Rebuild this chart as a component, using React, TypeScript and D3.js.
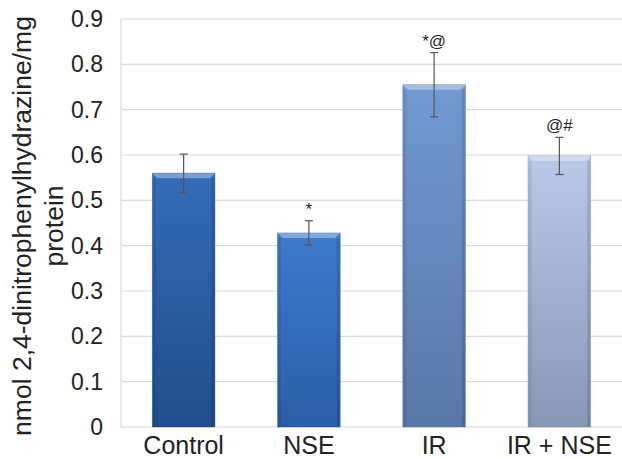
import React, { useEffect, useRef } from 'react';
import * as d3 from 'd3';

const groups = ['Control', 'NSE', 'IR', 'IR + NSE'];
const means = [0.56, 0.428, 0.755, 0.598];
const errors = [0.042, 0.027, 0.071, 0.041];
const marks = ['', '*', '*@', '@#'];
const yTicks = [0, 0.1, 0.2, 0.3, 0.4, 0.5, 0.6, 0.7, 0.8, 0.9];

const topColors = ['#336cb8', '#3d7bcb', '#7299d3', '#b9c9e9'];
const bottomColors = ['#214d8c', '#2a5ea6', '#5876a8', '#8897b5'];

const App = () => {
  const svg = useRef(null);
  const width = 622;
  const height = 459;
  const margin = { top: 19, right: 0, bottom: 32, left: 121 };

  const renderChart = (svg: any) => {
    svg.selectAll('*').remove();
    const font = 'Liberation Sans, Arial, sans-serif';

    const xscale = d3
      .scaleBand()
      .domain(groups)
      .range([margin.left, width - margin.right])
      .paddingInner(0.5)
      .paddingOuter(0.25);

    const yscale = d3
      .scaleLinear()
      .domain([0, 0.9])
      .range([height - margin.bottom, margin.top]);

    const defs = svg.append('defs');
    groups.forEach((g, i) => {
      const grad = defs
        .append('linearGradient')
        .attr('id', 'grad' + i)
        .attr('x1', 0).attr('y1', 0).attr('x2', 0).attr('y2', 1);
      grad.append('stop').attr('offset', '0%').attr('stop-color', topColors[i]);
      grad.append('stop').attr('offset', '100%').attr('stop-color', bottomColors[i]);
    });

    // gridlines
    svg
      .append('g')
      .selectAll('line')
      .data(yTicks.slice(1))
      .enter()
      .append('line')
      .attr('x1', margin.left)
      .attr('x2', width - margin.right)
      .attr('y1', (d: number) => yscale(d))
      .attr('y2', (d: number) => yscale(d))
      .attr('stroke', '#d9d9d9')
      .attr('stroke-width', 1.2);

    // axes lines
    svg
      .append('line')
      .attr('x1', margin.left).attr('x2', margin.left)
      .attr('y1', yscale(0.9)).attr('y2', yscale(0))
      .attr('stroke', '#d9d9d9').attr('stroke-width', 1.2);
    svg
      .append('line')
      .attr('x1', margin.left).attr('x2', width - margin.right)
      .attr('y1', yscale(0)).attr('y2', yscale(0))
      .attr('stroke', '#d9d9d9').attr('stroke-width', 1.2);

    // y tick labels
    const yAxis = d3
      .axisLeft(yscale)
      .tickValues(yTicks)
      .tickSize(0)
      .tickPadding(18)
      .tickFormat((d: any) => (d === 0 ? '0' : d3.format('.1f')(d)));
    const ya = svg
      .append('g')
      .attr('transform', `translate(${margin.left}, 0)`)
      .call(yAxis);
    ya.select('.domain').remove();
    ya.attr('font-size', null).attr('font-family', null);
    ya.selectAll('text')
      .style('font-family', font)
      .style('font-size', '23px')
      .attr('fill', '#222');

    // x labels
    const xAxis = d3.axisBottom(xscale).tickSize(0).tickPadding(9);
    const xa = svg
      .append('g')
      .attr('transform', `translate(0, ${height - margin.bottom})`)
      .call(xAxis);
    xa.select('.domain').remove();
    xa.attr('font-size', null).attr('font-family', null);
    xa.selectAll('text')
      .style('font-family', font)
      .style('font-size', '25px')
      .attr('fill', '#222');

    // bars
    const bars = svg
      .append('g')
      .selectAll('g.bar')
      .data(groups)
      .enter()
      .append('g')
      .attr('class', 'bar');

    const bw = xscale.bandwidth();
    bars
      .append('rect')
      .attr('x', (d: string) => xscale(d))
      .attr('width', bw)
      .attr('y', (_d: string, i: number) => yscale(means[i]))
      .attr('height', (_d: string, i: number) => yscale(0) - yscale(means[i]))
      .attr('fill', (_d: string, i: number) => `url(#grad${i})`)
      .attr('stroke', (_d: string, i: number) => d3.color(bottomColors[i])!.darker(0.3).toString())
      .attr('stroke-opacity', 0.5)
      .attr('stroke-width', 0.8);

    // top bevel
    const bev = 5;
    bars
      .append('path')
      .attr('d', (d: string, i: number) => {
        const x0 = xscale(d) as number;
        const y0 = yscale(means[i]);
        return `M${x0},${y0} L${x0 + bw},${y0} L${x0 + bw - bev},${y0 + bev} L${x0 + bev},${y0 + bev} Z`;
      })
      .attr('fill', '#fff')
      .attr('fill-opacity', 0.35);

    // side shading
    bars
      .append('rect')
      .attr('x', (d: string) => (xscale(d) as number) + 0.5)
      .attr('width', 3)
      .attr('y', (_d: string, i: number) => yscale(means[i]) + bev)
      .attr('height', (_d: string, i: number) => yscale(0) - yscale(means[i]) - bev)
      .attr('fill', '#000')
      .attr('fill-opacity', 0.08);
    bars
      .append('rect')
      .attr('x', (d: string) => (xscale(d) as number) + bw - 3.5)
      .attr('width', 3)
      .attr('y', (_d: string, i: number) => yscale(means[i]) + bev)
      .attr('height', (_d: string, i: number) => yscale(0) - yscale(means[i]) - bev)
      .attr('fill', '#000')
      .attr('fill-opacity', 0.12);

    // error bars
    const eb = svg
      .append('g')
      .selectAll('g.err')
      .data(groups)
      .enter()
      .append('g')
      .attr('class', 'err')
      .attr('stroke', '#555')
      .attr('stroke-width', 1.2);
    const cx = (d: string) => (xscale(d) as number) + bw / 2;
    eb.append('line')
      .attr('x1', cx).attr('x2', cx)
      .attr('y1', (_d: string, i: number) => yscale(means[i] + errors[i]))
      .attr('y2', (_d: string, i: number) => yscale(means[i] - errors[i]));
    eb.append('line')
      .attr('x1', (d: string) => cx(d) - 4).attr('x2', (d: string) => cx(d) + 4)
      .attr('y1', (_d: string, i: number) => yscale(means[i] + errors[i]))
      .attr('y2', (_d: string, i: number) => yscale(means[i] + errors[i]));
    eb.append('line')
      .attr('x1', (d: string) => cx(d) - 4).attr('x2', (d: string) => cx(d) + 4)
      .attr('y1', (_d: string, i: number) => yscale(means[i] - errors[i]))
      .attr('y2', (_d: string, i: number) => yscale(means[i] - errors[i]));

    // significance marks
    svg
      .append('g')
      .selectAll('text')
      .data(groups)
      .enter()
      .append('text')
      .attr('x', cx)
      .attr('y', (_d: string, i: number) => yscale(means[i] + errors[i]) - 6)
      .attr('text-anchor', 'middle')
      .style('font-family', font)
      .style('font-size', '17px')
      .attr('fill', '#222')
      .text((_d: string, i: number) => marks[i]);

    // y title
    const title = svg
      .append('text')
      .attr('transform', `translate(31, 226) rotate(-90)`)
      .attr('text-anchor', 'middle')
      .style('font-family', font)
      .style('font-size', '26.5px')
      .attr('fill', '#222');
    title.append('tspan').attr('x', 0).attr('dy', 0).text('nmol 2,4-dinitrophenylhydrazine/mg');
    title.append('tspan').attr('x', 0).attr('dy', 32).text('protein');
  };

  useEffect(() => {
    renderChart(d3.select(svg.current));
  }, []);

  return (
    <svg
      ref={svg}
      width={width}
      height={height}
      style={{ position: 'absolute', left: 0, top: 0, background: '#fff' }}
    />
  );
};

export default App;
